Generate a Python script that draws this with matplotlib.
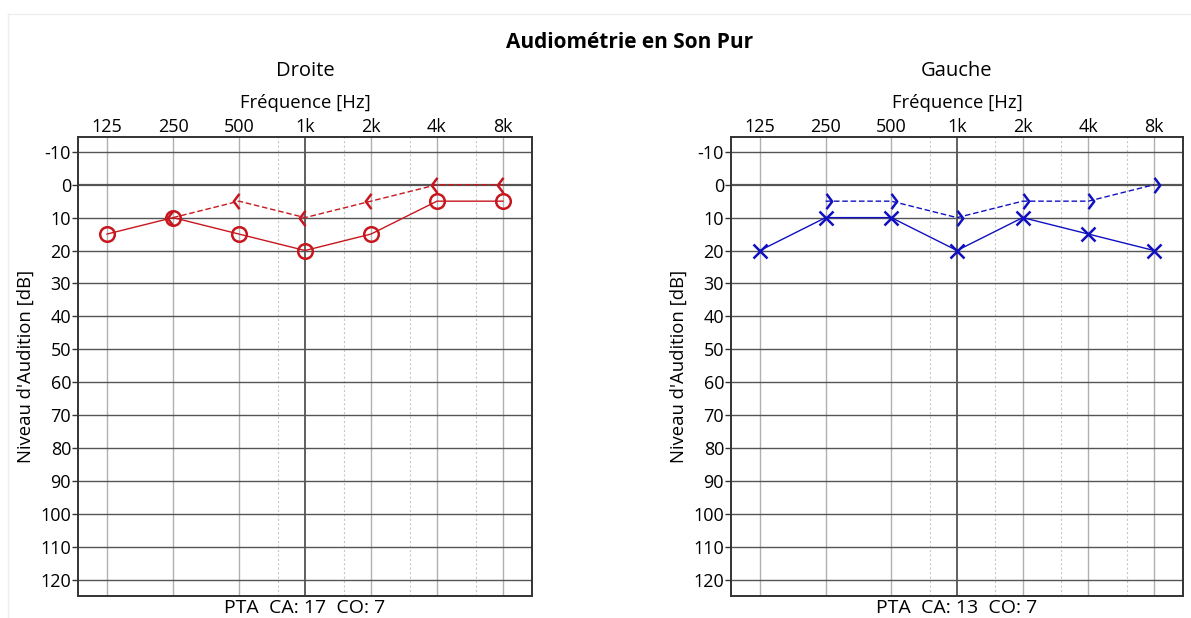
import matplotlib.pyplot as plt
from matplotlib.path import Path
from matplotlib.lines import Line2D

plt.rcParams['font.family'] = ['Open Sans', 'DejaVu Sans']
plt.rcParams['axes.unicode_minus'] = False

# Frequencies (Hz) and tick labels
freqs = [125, 250, 500, 1000, 2000, 4000, 8000]
freq_labels = ['125', '250', '500', '1k', '2k', '4k', '8k']
mid_freqs = [750, 1500, 3000, 6000]
db_ticks = list(range(-10, 130, 10))

# Right ear (Droite)
right_ac_f = [125, 250, 500, 1000, 2000, 4000, 8000]
right_ac_db = [15, 10, 15, 20, 15, 5, 5]
right_bc_f = [250, 500, 1000, 2000, 4000, 8000]
right_bc_db = [10, 5, 10, 5, 0, 0]

# Left ear (Gauche)
left_ac_f = [125, 250, 500, 1000, 2000, 4000, 8000]
left_ac_db = [20, 10, 10, 20, 10, 15, 20]
left_bc_f = [250, 500, 1000, 2000, 4000, 8000]
left_bc_db = [5, 5, 10, 5, 5, 0]

pta = {'Droite': (17, 7), 'Gauche': (13, 7)}

red = '#c8161e'
blue = '#1010c0'

# open chevron markers, drawn beside the frequency
lt_marker = Path([(0, 1), (-0.75, 0), (0, -1)], [Path.MOVETO, Path.LINETO, Path.LINETO])
gt_marker = Path([(0, 1), (0.75, 0), (0, -1)], [Path.MOVETO, Path.LINETO, Path.LINETO])

fig = plt.figure(figsize=(11.91, 6.18), dpi=100)

# faint outer frame
fig.add_artist(Line2D([8 / 1191, 1], [1 - 14 / 618] * 2, color='#eeeeee', lw=1))
fig.add_artist(Line2D([8 / 1191] * 2, [0, 1 - 14 / 618], color='#eeeeee', lw=1))

fig.text(0.529, 1 - 42 / 618, 'Audiométrie en Son Pur', ha='center', va='center',
         fontsize=15, fontweight='bold')


def draw_audiogram(ax, name, ac_f, ac_db, bc_f, bc_db, color, ac_marker, bc_marker):
    ax.set_xscale('log', base=2)
    ax.set_xlim(125 / 2 ** 0.44, 8000 * 2 ** 0.44)
    ax.set_ylim(125, -14.5)

    # grid
    for f in freqs:
        if f == 1000:
            ax.axvline(f, color='#444444', lw=1.2, zorder=1)
        else:
            ax.axvline(f, color='#b0b0b0', lw=1.0, zorder=1)
    for f in mid_freqs:
        ax.axvline(f, color='#c8c8c8', lw=0.8, ls=(0, (2, 2)), zorder=1)
    for d in db_ticks:
        ax.axhline(d, color='#555555', lw=1.6 if d == 0 else 1.0, zorder=1)

    ax.plot(ac_f, ac_db, color=color, lw=1.0, marker=ac_marker, ms=10.5,
            mfc='none', mec=color, mew=1.8, zorder=3)
    ax.plot(bc_f, bc_db, color=color, lw=1.0, ls=(0, (4, 2)), marker=bc_marker,
            ms=11, mfc='none', mec=color, mew=1.8, zorder=3)

    ax.set_xticks(freqs)
    ax.set_xticklabels(freq_labels)
    ax.xaxis.set_minor_locator(plt.NullLocator())
    ax.xaxis.tick_top()
    ax.xaxis.set_label_position('top')
    ax.tick_params(axis='x', length=0, pad=1, labelsize=13)
    ax.set_yticks(db_ticks)
    ax.tick_params(axis='y', length=4, width=1, pad=1, labelsize=13, color='#333333')
    ax.set_xlabel('Fréquence [Hz]', fontsize=13.3, labelpad=7)
    ax.set_ylabel("Niveau d'Audition [dB]", fontsize=13.3, labelpad=4)
    ax.set_title(name, fontsize=14.5, pad=13)
    for s in ax.spines.values():
        s.set_color('#333333')
        s.set_linewidth(1.4)
    ca, co = pta[name]
    ax.text(0.5, -0.006, f'PTA  CA: {ca}  CO: {co}', transform=ax.transAxes,
            ha='center', va='top', fontsize=14)


ax_r = fig.add_axes([78 / 1191, 1 - 596 / 618, 454 / 1191, 459 / 618])
ax_l = fig.add_axes([731 / 1191, 1 - 596 / 618, 452 / 1191, 459 / 618])

draw_audiogram(ax_r, 'Droite', right_ac_f, right_ac_db, right_bc_f, right_bc_db,
               red, 'o', lt_marker)
draw_audiogram(ax_l, 'Gauche', left_ac_f, left_ac_db, left_bc_f, left_bc_db,
               blue, 'x', gt_marker)

fig.savefig('out.png', dpi=100)
